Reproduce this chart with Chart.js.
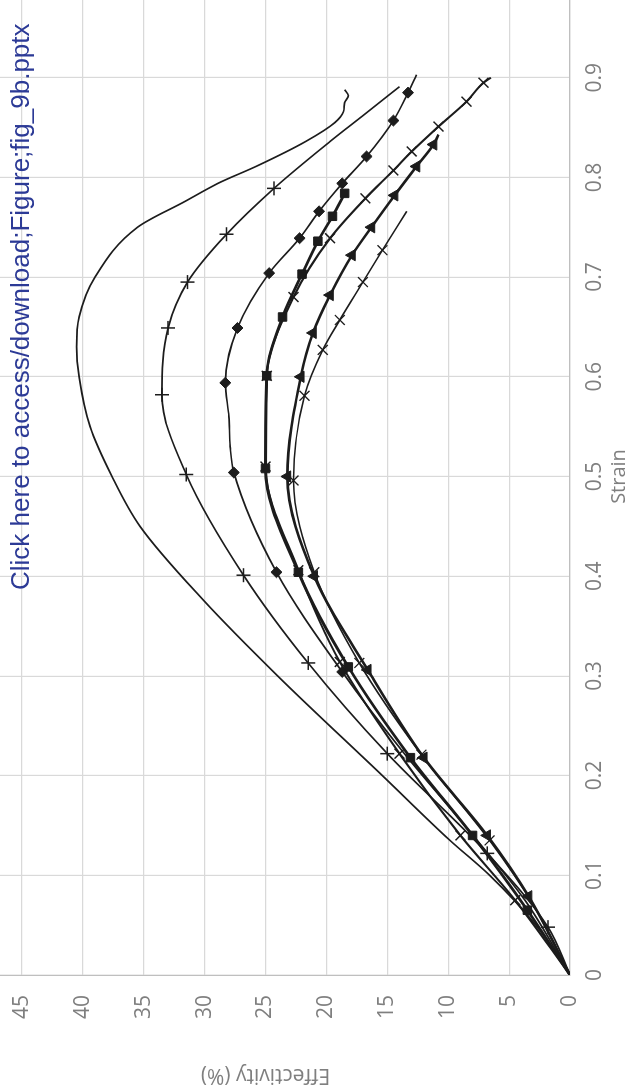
<!DOCTYPE html>
<html>
<head>
<meta charset="utf-8">
<script src="https://cdn.jsdelivr.net/npm/chart.js@4/dist/chart.umd.min.js"></script>
<style>
  html, body { margin: 0; padding: 0; background: #ffffff; }
  #wrap { position: absolute; left: 0; top: 0; width: 631px; height: 1089px; overflow: hidden; background: #fff; }
  #rot { position: absolute; left: 0; top: 0; width: 1125px; height: 692px;
         transform-origin: 0 0; transform: translate(-61px, 1089px) rotate(-90deg); }
</style>
</head>
<body>
<div id="wrap"><div id="rot"><canvas id="c" width="1125" height="692"></canvas></div></div>
<script>
// ---- Data (strain on x, effectivity % on y) ----
const strainTicks = [0, 0.1, 0.2, 0.3, 0.4, 0.5, 0.6, 0.7, 0.8, 0.9];
const effTicks = [0, 5, 10, 15, 20, 25, 30, 35, 40, 45];

// Series 1: plain line, no markers
const plainStrain = [0, 0.05, 0.1, 0.135, 0.2, 0.3, 0.376, 0.45, 0.5, 0.55, 0.6, 0.63, 0.66, 0.7, 0.75, 0.776, 0.794, 0.812, 0.836, 0.855, 0.866, 0.875, 0.882, 0.888];
const plainEff    = [0, 2.8, 6.6, 9.85, 15.4, 24.0, 30.1, 35.3, 37.6, 39.4, 40.3, 40.5, 40.3, 39.0, 35.5, 31.6, 28.9, 25.6, 21.7, 19.3, 18.6, 18.5, 18.2, 18.5];

// Series 2: plus markers
const plusLineStrain = [0, 0.048, 0.122, 0.222, 0.313, 0.401, 0.502, 0.582, 0.649, 0.695, 0.743, 0.789, 0.836, 0.862, 0.891];
const plusLineEff    = [0, 1.8, 6.8, 15.0, 21.5, 26.8, 31.5, 33.5, 33.0, 31.4, 28.2, 24.3, 19.7, 17.0, 14.0];
const plusMarkStrain = [0.048, 0.122, 0.222, 0.313, 0.401, 0.502, 0.582, 0.649, 0.695, 0.743, 0.789];
const plusMarkEff    = [1.8, 6.8, 15.0, 21.5, 26.8, 31.5, 33.5, 33.0, 31.4, 28.2, 24.3];

// Series 3: diamond markers
const diaLineStrain = [0, 0.075, 0.145, 0.222, 0.304, 0.404, 0.504, 0.53, 0.56, 0.594, 0.649, 0.704, 0.739, 0.766, 0.794, 0.821, 0.857, 0.885, 0.903];
const diaLineEff    = [0, 3.7, 8.3, 13.6, 18.7, 24.1, 27.6, 27.9, 28.0, 28.3, 27.3, 24.7, 22.2, 20.6, 18.7, 16.7, 14.5, 13.3, 12.6];
const diaMarkStrain = [0.304, 0.404, 0.504, 0.594, 0.649, 0.704, 0.739, 0.766, 0.794, 0.821, 0.857, 0.885];
const diaMarkEff    = [18.7, 24.1, 27.6, 28.3, 27.3, 24.7, 22.2, 20.6, 18.7, 16.7, 14.5, 13.3];

// Series 4: filled square markers
const sqStrain = [0, 0.065, 0.140, 0.218, 0.309, 0.404, 0.508, 0.601, 0.660, 0.703, 0.736, 0.761, 0.784];
const sqEff    = [0, 3.5, 8.0, 13.1, 18.2, 22.3, 25.0, 24.9, 23.6, 22.0, 20.7, 19.5, 18.5];

// Series 5: X markers (long)
const xLineStrain = [0, 0.075, 0.140, 0.222, 0.314, 0.406, 0.51, 0.601, 0.680, 0.739, 0.779, 0.807, 0.826, 0.851, 0.876, 0.895, 0.9];
const xLineEff    = [0, 4.5, 9.0, 14.0, 18.9, 22.3, 25.0, 24.9, 22.7, 19.7, 16.8, 14.5, 13.0, 10.8, 8.5, 7.1, 6.5];
const xMarkStrain = [0.075, 0.140, 0.222, 0.314, 0.406, 0.51, 0.601, 0.680, 0.739, 0.779, 0.807, 0.826, 0.851, 0.876, 0.895];
const xMarkEff    = [4.5, 9.0, 14.0, 18.9, 22.3, 25.0, 24.9, 22.7, 19.7, 16.8, 14.5, 13.0, 10.8, 8.5, 7.1];

// Series 6: triangle markers
const triLineStrain = [0, 0.079, 0.14, 0.218, 0.306, 0.40, 0.50, 0.60, 0.644, 0.682, 0.722, 0.750, 0.782, 0.811, 0.833, 0.843];
const triLineEff    = [0, 3.4, 6.8, 12.0, 16.6, 21.0, 23.2, 22.1, 21.1, 19.7, 17.9, 16.3, 14.4, 12.6, 11.2, 10.8];
const triMarkStrain = [0.079, 0.14, 0.218, 0.306, 0.40, 0.50, 0.60, 0.644, 0.682, 0.722, 0.750, 0.782, 0.811, 0.833];
const triMarkEff    = [3.4, 6.8, 12.0, 16.6, 21.0, 23.2, 22.1, 21.1, 19.7, 17.9, 16.3, 14.4, 12.6, 11.2];

// Series 7: thin X markers (short)
const x2Strain = [0, 0.07, 0.135, 0.221, 0.313, 0.404, 0.496, 0.581, 0.627, 0.657, 0.695, 0.727, 0.766];
const x2Eff    = [0, 3.0, 6.6, 12.2, 17.3, 21.0, 22.7, 21.8, 20.3, 18.9, 17.0, 15.4, 13.4];
const x2MarkStrain = [0.135, 0.221, 0.313, 0.404, 0.496, 0.581, 0.627, 0.657, 0.695, 0.727];
const x2MarkEff    = [6.6, 12.2, 17.3, 21.0, 22.7, 21.8, 20.3, 18.9, 17.0, 15.4];

const noteText = 'Click here to access/download;Figure;fig_9b.pptx';

// ---- build ----
const INK = '#1c1c1c';
function pts(xs, ys) { return xs.map((x, i) => ({ x: x, y: ys[i] })); }
function lineDS(xs, ys, w) {
  return { data: pts(xs, ys), showLine: true, borderColor: INK, borderWidth: w, pointRadius: 0,
           cubicInterpolationMode: 'monotone', fill: false, order: 2 };
}
function markDS(xs, ys, style, r, bw, filled) {
  return { data: pts(xs, ys), showLine: false, pointStyle: style, pointRadius: r,
           pointBorderColor: INK, pointBackgroundColor: filled ? INK : '#ffffff',
           pointBorderWidth: bw, order: 1 };
}

const datasets = [
  lineDS(plainStrain, plainEff, 1.7),
  lineDS(plusLineStrain, plusLineEff, 1.7),
  markDS(plusMarkStrain, plusMarkEff, 'cross', 7, 1.5, false),
  lineDS(diaLineStrain, diaLineEff, 1.7),
  markDS(diaMarkStrain, diaMarkEff, 'rectRot', 5.5, 1, true),
  lineDS(sqStrain, sqEff, 2.8),
  markDS(sqStrain.slice(1), sqEff.slice(1), 'rect', 6, 1, true),
  lineDS(xLineStrain, xLineEff, 2.1),
  markDS(xMarkStrain, xMarkEff, 'crossRot', 7, 1.5, false),
  lineDS(triLineStrain, triLineEff, 2.6),
  markDS(triMarkStrain, triMarkEff, 'triangle', 6.5, 1, true),
  lineDS(x2Strain, x2Eff, 1.6),
  markDS(x2MarkStrain, x2MarkEff, 'crossRot', 7, 1.3, false)
];

const notePlugin = {
  id: 'note',
  afterDraw(chart) {
    const ctx = chart.ctx;
    ctx.save();
    ctx.font = '26px "Liberation Sans", Arial, sans-serif';
    ctx.fillStyle = '#2c3a96';
    ctx.textBaseline = 'alphabetic';
    ctx.fillText(noteText, 499, 90);
    ctx.restore();
  }
};

const FONT = '"Open Sans", "Noto Sans", sans-serif';
new Chart(document.getElementById('c'), {
  type: 'scatter',
  data: { datasets: datasets },
  plugins: [notePlugin],
  options: {
    responsive: false,
    animation: false,
    layout: { padding: { top: 22, right: 14, left: 0, bottom: 0 } },
    plugins: { legend: { display: false }, tooltip: { enabled: false } },
    scales: {
      x: {
        type: 'linear', min: 0, max: 1,
        afterBuildTicks: s => { s.ticks = strainTicks.map(v => ({ value: v })); },
        afterFit: s => { s.height = 61; s.paddingLeft = 0; s.paddingRight = 0; },
        grid: { color: '#d9d9d9', lineWidth: 1.2, drawTicks: false },
        border: { color: '#bfbfbf', width: 1.2 },
        ticks: { color: '#7f7f7f', padding: 12, font: { family: FONT, size: 21 }, maxRotation: 0 },
        title: { display: true, text: 'Strain', color: '#7f7f7f', font: { family: FONT, size: 20 }, padding: { top: 0, bottom: 0 } }
      },
      y: {
        type: 'linear', min: 0, max: 50,
        afterBuildTicks: s => { s.ticks = effTicks.map(v => ({ value: v })); },
        afterFit: s => { s.width = 114; s.paddingTop = 0; s.paddingBottom = 0; },
        grid: { color: '#d9d9d9', lineWidth: 1.2, drawTicks: false },
        border: { color: '#bfbfbf', width: 1.2 },
        ticks: { color: '#7f7f7f', padding: 20, font: { family: FONT, size: 21 } },
        title: { display: true, text: 'Effectivity (%)', color: '#7f7f7f', font: { family: FONT, size: 21 }, padding: { top: 1, bottom: 0 } }
      }
    }
  }
});
</script>
</body>
</html>
